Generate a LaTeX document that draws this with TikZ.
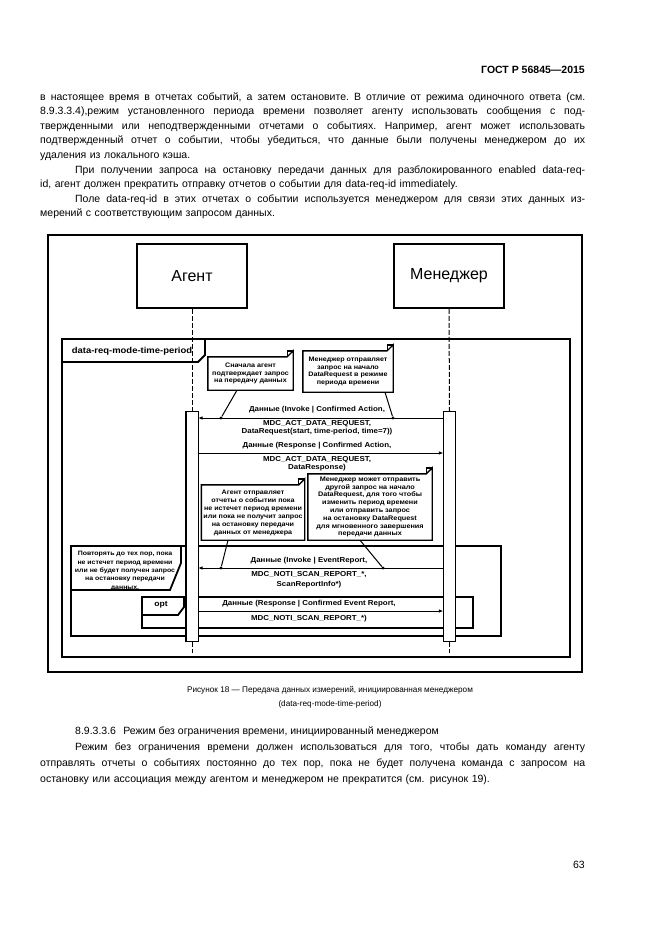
\documentclass[tikz,border=0pt]{standalone}
\usepackage{fontspec}
\setmainfont{Liberation Sans}
\newfontfamily\diagfont{Liberation Sans}[FakeStretch=1.1]
\usetikzlibrary{arrows.meta}

\newcommand{\bodyfont}{\fontsize{10.5}{14.6}\selectfont}
\newcommand{\msgfont}{\diagfont\fontsize{7.2}{8.5}\selectfont\bfseries}
\newcommand{\notefont}{\diagfont\fontsize{6.5}{7.6}\selectfont\bfseries}
% a full justified line: words spread over the given width
\makeatletter
\def\jl@a#1 #2\@nil{#1\ifx\relax#2\relax\expandafter\@gobble\else\expandafter\@firstofone\fi
  {\hskip .28em plus 1fil\relax\jl@a#2\@nil}}
\newcommand{\jline}[2]{\leavevmode\hbox to #1{\jl@a#2 \@nil}}
\makeatother
% folded corner of a note
\newcommand{\dogear}[1]{%
  \draw[notebd] (#1.south west) -- (#1.north west) -- ([xshift=-6pt]#1.north east)
    -- ([yshift=6pt]#1.north east) -- (#1.south east) -- cycle;
  \draw[notebd] ([xshift=-6pt]#1.north east) -- ([xshift=-6pt,yshift=6pt]#1.north east)
    -- ([yshift=6pt]#1.north east);}

\tikzset{
  body/.style={anchor=base west, inner sep=0pt, align=left, text width=545pt,
    font=\bodyfont},
  frame/.style={draw, line width=1.8pt},
  actor/.style={draw, line width=1.6pt, minimum width=110pt, minimum height=64pt,
    font=\fontsize{16}{18}\selectfont},
  bar/.style={draw, line width=1.2pt, fill=white, minimum width=11pt,
    minimum height=229pt, inner sep=0pt},
  life/.style={line width=1pt, dash pattern=on 5pt off 2pt},
  msg/.style={line width=0.9pt, -{Latex[length=4.5pt,width=3.5pt]}},
  lbl/.style={font=\msgfont, inner sep=0pt, align=center},
  note/.style={font=\notefont, inner sep=0pt, align=center},
  notebd/.style={line width=1.4pt, line join=miter},
  link/.style={line width=1pt},
  dot/.style={circle, fill, inner sep=0pt, minimum size=3.4pt},
}

\begin{document}
\begin{tikzpicture}[x=1pt, y=-1pt]
\fill[white] (0,0) rectangle (661,935);
\useasboundingbox (0,0) rectangle (661,935);

% page text above the figure
\node[anchor=base east, inner sep=0pt, font=\fontsize{10.5}{12}\selectfont\bfseries] (hdr) at (585,73) {ГОСТ Р 56845—2015};
\node[body] (p1) at (40,100) {%
\jline{545pt}{в настоящее время в отчетах событий, а затем остановите. В отличие от режима одиночного ответа (см.}\\
\jline{545pt}{8.9.3.3.4),режим установленного периода времени позволяет агенту использовать сообщения с под-}\\
\jline{545pt}{твержденными или неподтвержденными отчетами о событиях. Например, агент может использовать}\\
\jline{545pt}{подтвержденный отчет о событии, чтобы убедиться, что данные были получены менеджером до их}\\
удаления из локального кэша.\\
\hspace*{35pt}\jline{510pt}{При получении запроса на остановку передачи данных для разблокированного enabled data-req-}\\
id, агент должен прекратить отправку отчетов о событии для data-req-id immediately.\\
\hspace*{35pt}\jline{510pt}{Поле data-req-id в этих отчетах о событии используется менеджером для связи этих данных из-}\\
мерений с соответствующим запросом данных.};

% frames
\draw[frame] (48,235) rectangle (582,672);
\draw[frame] (62,339) rectangle (570,657);
\draw[frame] (62,362) -- (198,362) -- (205,355) -- (205,339);
\node[inner sep=0pt, font=\diagfont\fontsize{8.6}{9}\selectfont\bfseries] (tab1) at (132,351) {data-req-mode-time-period};

% actors and lifelines
\node[actor] (agent) at (192,276) {Агент};
\node[actor] (mgr) at (449,276) {Менеджер};
\node[bar] (abar) at (192,526.5) {};
\node[bar] (mbar) at (449.5,526.5) {};
\draw[life] (agent.south) -- (abar.north);
\draw[life] (mgr.south) -- (mbar.north);
\coordinate (aend) at (192,653);
\coordinate (mend) at (449.5,653);
\draw[life] (abar.south) -- (aend);
\draw[life] (mbar.south) -- (mend);

% loop and opt frames
\draw[frame] (71,546) rectangle (501,636);
\draw[frame] (71,590) -- (170,590) -- (181,563) -- (181,546);
\node[note, font=\diagfont\fontsize{6.3}{8.3}\selectfont\bfseries] (rep) at (125,571) {Повторять до тех пор, пока\\не истечет период времени\\или не будет получен запрос\\на остановку передачи\\данных.};
\draw[frame] (142,597) rectangle (473,628);
\draw[frame] (142,615) -- (178,615) -- (184,607) -- (184,597);
\node[inner sep=0pt, font=\diagfont\fontsize{7.8}{9}\selectfont\bfseries] (opt) at (161,605) {opt};
\fill[white] (abar.north west) rectangle (abar.south east);
\draw[line width=1.2pt] (abar.north west) rectangle (abar.south east);
\fill[white] (mbar.north west) rectangle (mbar.south east);
\draw[line width=1.2pt] (mbar.north west) rectangle (mbar.south east);

% notes
\node[note, minimum width=85pt, minimum height=33pt] (n1) at (250.5,373.5) {Сначала агент\\подтверждает запрос\\на передачу данных};
\dogear{n1}
\node[note, minimum width=90pt, minimum height=41pt] (n2) at (348,371.5) {Менеджер отправляет\\запрос на начало\\DataRequest в режиме\\периода времени};
\dogear{n2}
\node[note, minimum width=103pt, minimum height=55pt, font=\diagfont\fontsize{6.5}{8}\selectfont\bfseries] (n3) at (253,512.5) {Агент отправляет\\отчеты о событии пока\\не истечет период времени\\или пока не получит запрос\\на остановку передачи\\данных от менеджера};
\dogear{n3}
\node[note, minimum width=124pt, minimum height=66pt, font=\diagfont\fontsize{6.6}{7.8}\selectfont\bfseries] (n4) at (370,507) {Менеджер может отправить\\другой запрос на начало\\DataRequest, для того чтобы\\изменить период времени\\или отправить запрос\\на остановку DataRequest\\для мгновенного завершения\\передачи данных};
\dogear{n4}

% messages
\draw[msg] (mbar.west |- 0,418) -- (abar.east |- 0,418);
\node[lbl] (m1a) at (317,410) {Данные (Invoke | Confirmed Action,};
\node[lbl, anchor=north] (m1b) at (317,420) {MDC\_ACT\_DATA\_REQUEST,\\DataRequest(start, time-period, time=7))};
\draw[msg] (abar.east |- 0,453) -- (mbar.west |- 0,453);
\node[lbl] (m2a) at (317,446) {Данные (Response | Confirmed Action,};
\node[lbl, anchor=north] (m2b) at (317,456) {MDC\_ACT\_DATA\_REQUEST,\\DataResponse)};
\draw[msg] (mbar.west |- 0,568) -- (abar.east |- 0,568);
\node[lbl] (m3a) at (309,561) {Данные (Invoke | EventReport,};
\node[lbl, anchor=north, font=\diagfont\fontsize{7.2}{10.5}\selectfont\bfseries] (m3b) at (309,571) {MDC\_NOTI\_SCAN\_REPORT\_*,\\ScanReportInfo*)};
\draw[msg] (abar.east |- 0,611) -- (mbar.west |- 0,611);
\node[lbl] (m4a) at (309,604) {Данные (Response | Confirmed Event Report,};
\node[lbl] (m4b) at (309,619) {MDC\_NOTI\_SCAN\_REPORT\_*)};

% note links
\node[dot] (d1) at (221,418) {};
\node[dot] (d2) at (393,418) {};
\node[dot] (d3) at (221,568) {};
\node[dot] (d4) at (383,568) {};
\draw[link] (n1.south -| 237,0) -- (d1);
\draw[link] (n2.south -| 385,0) -- (d2);
\draw[link] (n3.south -| 228,0) -- (d3);
\draw[link] (n4.south -| 360,0) -- (d4);

% caption and following text
\node[inner sep=0pt, align=center, font=\fontsize{8.2}{14}\selectfont] (cap) at (330,697) {Рисунок 18 — Передача данных измерений, инициированная менеджером\\(data-req-mode-time-period)};
\node[anchor=base west, inner sep=0pt, font=\fontsize{10.5}{12}\selectfont] (sec) at (75,734) {8.9.3.3.6\hspace{0.7em}Режим без ограничения времени, инициированный менеджером};
\node[body, font=\fontsize{10.5}{16}\selectfont] (p2) at (40,750) {%
\hspace*{35pt}\jline{510pt}{Режим без ограничения времени должен использоваться для того, чтобы дать команду агенту}\\
\jline{545pt}{отправлять отчеты о событиях постоянно до тех пор, пока не будет получена команда с запросом на}\\
остановку или ассоциация между агентом и менеджером не прекратится (см. рисунок 19).};
\node[anchor=base east, inner sep=0pt, font=\fontsize{10.5}{12}\selectfont] (pg) at (585,868) {63};
\end{tikzpicture}
\end{document}
